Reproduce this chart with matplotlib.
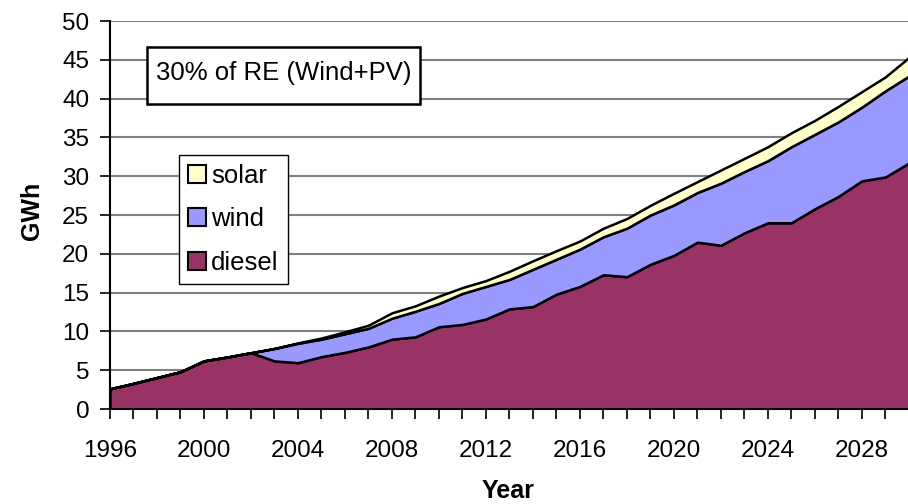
import numpy as np
import matplotlib.pyplot as plt
from matplotlib.patches import Rectangle, Patch

plt.rcParams['font.family'] = ['Liberation Sans', 'DejaVu Sans']

years = list(range(1996, 2031))
diesel = [2.6, 3.3, 4.05, 4.8, 6.2, 6.7, 7.25, 6.2, 5.97, 6.75,
          7.3, 8.0, 9.0, 9.3, 10.6, 10.9, 11.6, 12.9, 13.2, 14.8,
          15.8, 17.3, 17.05, 18.65, 19.8, 21.5, 21.1, 22.7, 24.0, 24.0,
          25.8, 27.4, 29.4, 29.9, 31.7]
wind = [0, 0, 0, 0, 0, 0, 0, 1.6, 2.5, 2.25,
        2.4, 2.4, 2.7, 3.3, 3.0, 4.0, 4.2, 3.8, 4.8, 4.5,
        4.8, 4.9, 6.25, 6.35, 6.5, 6.4, 8.0, 7.9, 8.0, 9.8,
        9.6, 9.6, 9.5, 11.1, 11.2]
solar = [0, 0, 0, 0, 0, 0, 0, 0, 0.05, 0.15,
         0.25, 0.4, 0.7, 0.7, 0.95, 0.75, 0.75, 1.05, 1.1, 1.1,
         1.05, 1.1, 1.25, 1.25, 1.5, 1.4, 1.7, 1.7, 1.8, 1.8,
         1.8, 2.0, 2.0, 1.8, 2.4]
series_names = ['diesel', 'wind', 'solar']
colors = ['#993366', '#9999FF', '#FFFFCC']

fig = plt.figure(figsize=(9.08, 5.04), dpi=100)
ax = fig.add_axes([110/908, 95/504, 800/908, 388/504])

# gridlines first so the areas sit on top
ax.set_axisbelow(True)
ax.yaxis.grid(True, color='#808080', linewidth=1.5)

ax.stackplot(years, diesel, wind, solar, colors=colors,
             edgecolor='black', linewidth=1.8)

ax.set_xlim(1996, 2030.05)
ax.set_ylim(0, 50)
ax.set_yticks(np.arange(0, 51, 5))
ax.set_xticks(years)
ax.set_xticklabels([str(y) if (y - 1996) % 4 == 0 else '' for y in years])
ax.tick_params(axis='both', labelsize=17.5, length=7, width=1.2, color='black')
ax.tick_params(axis='x', pad=15)
ax.tick_params(axis='y', pad=8)

for s in ['top', 'right']:
    ax.spines[s].set_visible(False)
for s in ['left', 'bottom']:
    ax.spines[s].set_linewidth(1.5)

fig.text(32/908, 1 - 211/504, 'GWh', rotation=90, ha='center', va='center',
         fontsize=18, fontweight='bold')
fig.text(508/908, 1 - 491/504, 'Year', ha='center', va='center',
         fontsize=18, fontweight='bold')

# note box
fig.patches.append(Rectangle((147/908, 1 - 104/504), 273/908, 57/504,
                             transform=fig.transFigure, facecolor='white',
                             edgecolor='black', linewidth=1.8, zorder=5))
fig.text(156/908, 1 - 80/504, '30% of RE (Wind+PV)', ha='left', va='baseline',
         fontsize=18.5, zorder=6)

handles = [Patch(facecolor=c, edgecolor='black', linewidth=1.5) for c in colors]
leg = ax.legend(handles[::-1], series_names[::-1], loc='upper left',
                bbox_to_anchor=((179 - 110)/798, (409 - 155)/388),
                fontsize=18.5, frameon=True, fancybox=False, edgecolor='black',
                framealpha=1, borderpad=0.35, labelspacing=0.75,
                handlelength=0.7, handleheight=0.7, handletextpad=0.2,
                borderaxespad=0)
leg.get_frame().set_linewidth(1.0)

fig.savefig('out.png', dpi=100)
